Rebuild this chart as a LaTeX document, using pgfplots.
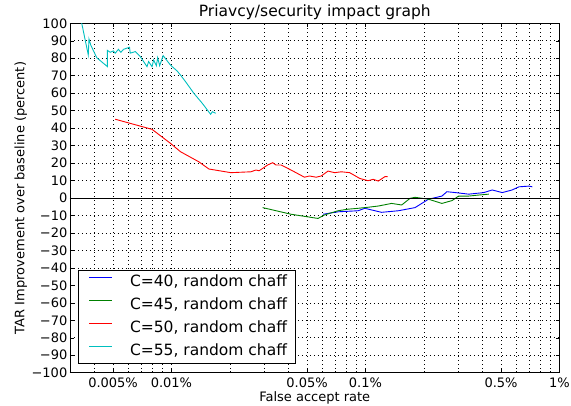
\documentclass[border=0pt]{standalone}
\usepackage{fontspec}
\setmainfont{DejaVu Sans}
\usepackage{pgfplots}
\pgfplotsset{compat=1.18}
\definecolor{mplgreen}{rgb}{0,0.5,0}
\definecolor{mplcyan}{rgb}{0,0.75,0.75}
\pgfplotsset{
  mpllegline/.style={legend image code/.code={%
    \path[draw=none] (0bp,4.5bp) -- (26bp,4.5bp);
    \draw[draw=#1, line width=1.3bp] (3bp,4.5bp) -- (26bp,4.5bp);}},
}
\begin{document}
\begin{tikzpicture}
\begin{axis}[
  scale only axis,
  width=489.5bp, height=349.4bp,
  xmode=log,
  xmin=0.003, xmax=1,
  ymin=-100, ymax=100,
  xtick={0.005,0.01,0.05,0.1,0.5,1},
  xticklabels={0.005\%,0.01\%,0.05\%,0.1\%,0.5\%,1\%},
  minor xtick={0.004,0.006,0.007,0.008,0.009,0.02,0.03,0.04,0.06,0.07,0.08,0.09,0.2,0.3,0.4,0.6,0.7,0.8,0.9},
  ytick={-100,-90,...,100},
  yticklabels={−100,−90,−80,−70,−60,−50,−40,−30,−20,−10,0,10,20,30,40,50,60,70,80,90,100},
  tick align=inside,
  major tick length=4bp,
  minor tick length=2bp,
  tick style={black, line width=0.5bp},
  grid=both,
  major grid style={black, line width=0.6bp, dash pattern=on 1bp off 3bp},
  minor grid style={black, line width=0.6bp, dash pattern=on 1bp off 3bp},
  axis line style={black, line width=0.8bp},
  ticklabel style={font=\fontsize{13bp}{15bp}\selectfont},
  xticklabel style={anchor=base, yshift=-14.8bp, inner sep=0pt},
  yticklabel style={anchor=east, inner sep=0pt, xshift=-2.5bp},
  title={Priavcy/security impact graph},
  every axis title/.style={at={(axis description cs:0.5,1)}, anchor=base, yshift=6.6bp, inner sep=0pt, font=\fontsize{15.5bp}{18bp}\selectfont},
  xlabel={False accept rate},
  xlabel style={at={(axis description cs:0.5,0)}, anchor=base, yshift=-28.5bp, inner sep=0pt, font=\fontsize{13bp}{15bp}\selectfont},
  ylabel={TAR Improvement over baseline (percent)},
  ylabel style={at={(axis description cs:-0.093,0.5)}, anchor=base, rotate=0, inner sep=0pt, font=\fontsize{13bp}{15bp}\selectfont},
  legend cell align=left,
  legend style={
    at={(axis description cs:0.0163,0.0249)}, anchor=south west,
    line width=0.8bp, fill=white,
    font=\fontsize{15.5bp}{18bp}\selectfont,
    inner xsep=8bp, inner ysep=4.3bp,
    row sep=7bp, column sep=17bp,
    nodes={inner sep=0pt, text height=12bp, text depth=4bp},
  },
]
\addplot[draw=blue, line width=0.9bp, forget plot] coordinates {
(0.0604,-9.3) (0.07218,-7.9) (0.09162,-7.3) (0.09918,-5.9) (0.1210,-8.2)
(0.1477,-7.3) (0.1801,-5.5) (0.2113,-0.7) (0.2477,1.1) (0.2629,3.6)
(0.2902,3.1) (0.3405,2.2) (0.4074,3.1) (0.4498,4.6) (0.5070,3.1)
(0.5702,4.6) (0.6180,6.4) (0.6966,6.8) (0.7244,6.4)
};
\addplot[draw=mplgreen, line width=0.9bp, forget plot] coordinates {
(0.02951,-5.5) (0.04136,-9.3) (0.05689,-11.7) (0.06152,-9.7) (0.07218,-7.3)
(0.08130,-6.4) (0.09162,-5.9) (0.1032,-5.3) (0.1164,-4.6) (0.1364,-3.1)
(0.1537,-4.0) (0.1696,-0.2) (0.1801,0.4) (0.2113,-0.7) (0.2477,-3.1)
(0.2790,-1.5) (0.3022,1.1) (0.3405,1.1) (0.3837,1.7) (0.4324,2.2)
};
\addplot[draw=red, line width=0.9bp, forget plot] coordinates {
(0.005129,45.1) (0.007943,39.3) (0.00988,31.3) (0.01113,26.5) (0.01385,20.7)
(0.0156,16.6) (0.02022,14.5) (0.02566,15.0) (0.02723,16.0) (0.02832,15.6)
(0.03133,18.9) (0.03324,20.2) (0.03457,18.9) (0.03671,18.9) (0.04136,16.0)
(0.04849,11.9) (0.05145,12.6) (0.05572,11.9) (0.05916,12.6) (0.06412,15.4)
(0.06934,14.5) (0.07510,15.0) (0.08293,14.5) (0.09340,11.2) (0.1032,9.9)
(0.1096,10.7) (0.1164,9.7) (0.1259,12.2) (0.1300,12.2)
};
\addplot[draw=mplcyan, line width=0.9bp, forget plot] coordinates {
(0.00338,104.7) (0.003727,81.9) (0.003758,91.0) (0.003837,87.6) (0.004121,80.3)
(0.004677,75.2) (0.004677,84.5) (0.004831,83.4) (0.005025,84.2) (0.005129,82.9)
(0.005333,85.1) (0.005487,83.4) (0.005662,85.1) (0.006081,86.3) (0.006131,82.9)
(0.006508,83.8) (0.006911,80.9) (0.007482,75.2) (0.007627,78.1) (0.007943,75.2)
(0.008096,79.0) (0.008362,75.7) (0.008492,80.3) (0.008697,75.7) (0.009058,81.5)
(0.00988,76.1) (0.01070,72.7) (0.01113,70.4) (0.01182,66.6) (0.01305,59.9)
(0.01442,54.2) (0.01592,47.9) (0.01625,49.4) (0.0169,48.5)
};
\addplot[draw=black, line width=0.9bp, forget plot] coordinates {(0.003,0) (1,0)};
\addlegendimage{mpllegline=blue}
\addlegendentry{C=40, random chaff}
\addlegendimage{mpllegline=mplgreen}
\addlegendentry{C=45, random chaff}
\addlegendimage{mpllegline=red}
\addlegendentry{C=50, random chaff}
\addlegendimage{mpllegline=mplcyan}
\addlegendentry{C=55, random chaff}
\end{axis}
\pgfresetboundingbox
\path ([shift={(-70bp,-33.3bp)}]current axis.south west) rectangle ([shift={(11.5bp,23.3bp)}]current axis.north east);
\end{tikzpicture}
\end{document}
